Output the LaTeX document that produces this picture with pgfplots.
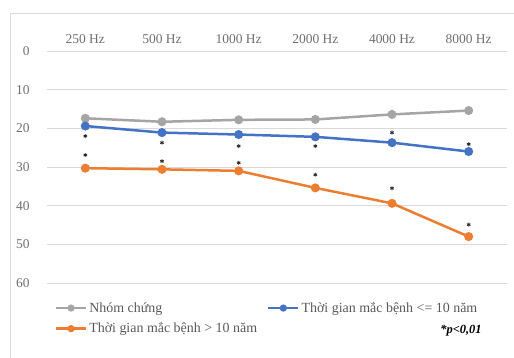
\documentclass[border=0pt]{standalone}
\usepackage{fontspec}
\setmainfont{Liberation Serif}
\usepackage{pgfplots}
\pgfplotsset{compat=1.18}
\definecolor{cgray}{HTML}{A5A5A5}
\definecolor{cblue}{HTML}{4472C4}
\definecolor{corange}{HTML}{ED7D31}
\definecolor{cgrid}{HTML}{D9D9D9}
\definecolor{ctxt}{HTML}{595959}
\definecolor{ctick}{HTML}{6F6F6F}
\begin{document}
\begin{tikzpicture}
\path[use as bounding box] (0bp,0bp) rectangle (514bp,358bp);
\draw[cgrid, line width=0.8bp] (10bp,0bp) -- (10bp,345bp) -- (514bp,345bp);
\begin{axis}[
  at={(47bp,75bp)}, anchor=south west,
  scale only axis, width=460bp, height=232bp,
  xmin=-0.5, xmax=5.5, ymin=0, ymax=60, y dir=reverse,
  xtick={0,1,2,3,4,5},
  xticklabels={250 Hz,500 Hz,1000 Hz,2000 Hz,4000 Hz,8000 Hz},
  xticklabel pos=right,
  ytick={0,10,20,30,40,50,60},
  ymajorgrids, grid style={cgrid, line width=0.8bp},
  axis line style={draw=none},
  major tick length=0pt,
  /pgf/number format/assume math mode=true,
  tick label style={font=\fontsize{13.5}{15}\selectfont, text=ctick},
  xticklabel style={yshift=4bp},
  yticklabel style={xshift=-14bp},
  legend columns=2,
  legend cell align=left,
  legend style={at={(axis description cs:0.01,-0.065)}, anchor=north west,
    draw=none, fill=none, font=\fontsize{14}{16}\selectfont, text=ctxt,
    /tikz/every even column/.append style={column sep=8bp},
    row sep=5bp},
  legend image code/.code={\draw[#1, mark size=2.3bp, mark repeat=2, mark phase=2]
     plot coordinates {(0bp,0bp)(15bp,0bp)(30bp,0bp)};},
]
\addplot[cgray, line width=2.5bp, mark=*, mark size=3.2bp]
  coordinates {(0,17.4)(1,18.3)(2,17.8)(3,17.7)(4,16.4)(5,15.4)};
\addlegendentry{Nhóm chứng}
\addplot[cblue, line width=2.5bp, mark=*, mark size=3.2bp]
  coordinates {(0,19.4)(1,21.1)(2,21.6)(3,22.2)(4,23.7)(5,26.0)};
\addlegendentry{Thời gian mắc bệnh <= 10 năm}
\addplot[corange, line width=2.5bp, mark=*, mark size=3.2bp]
  coordinates {(0,30.3)(1,30.6)(2,31.0)(3,35.4)(4,39.4)(5,48.0)};
\addlegendentry{Thời gian mắc bệnh > 10 năm}
\addplot[only marks, mark=asterisk, mark size=2bp, line width=0.8bp, black!85, forget plot]
  coordinates {(0,22.0)(0,26.9)(1,23.7)(1,28.5)(2,24.6)(2,28.9)
               (3,24.6)(3,32.0)(4,21.1)(4,35.5)(5,24.1)(5,44.9)};
\end{axis}
\node[font=\bfseries\itshape\fontsize{12.5}{14}\selectfont] at (461bp,27bp) {*p<0,01};
\end{tikzpicture}
\end{document}
